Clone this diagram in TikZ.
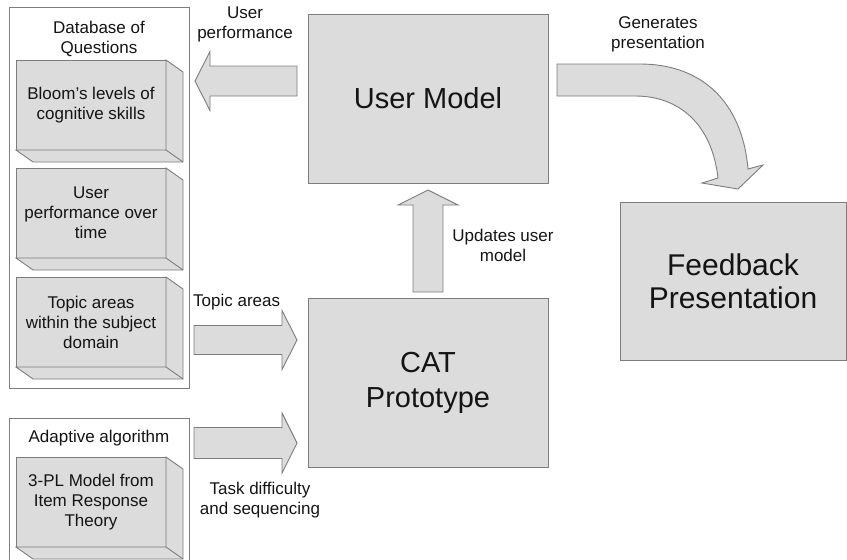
\documentclass[tikz,border=0pt]{standalone}
\usepackage{fontspec}
\setmainfont{Liberation Sans}
\usetikzlibrary{calc}
\definecolor{boxfill}{RGB}{220,220,220}
\definecolor{edge}{RGB}{125,125,125}
\definecolor{ink}{RGB}{20,20,20}

% straight block arrow: tail, tip, half shaft width, half head width, head length
\newcommand\fatarrow[5]{%
  \coordinate (fahead) at ($(#2)!#5!(#1)$);
  \draw[blockarrow]
    ($(#1)!#3!90:(#2)$) --
    ($(fahead)!#3!-90:(#1)$) --
    ($(fahead)!#4!-90:(#1)$) --
    (#2) --
    ($(fahead)!#4!90:(#1)$) --
    ($(fahead)!#3!90:(#1)$) --
    ($(#1)!#3!-90:(#2)$) -- cycle;}

% depth faces (right and bottom) of a raised box
\newcommand\slabsides[1]{%
  \draw[face] (#1.north east) -- ++(17,12) -- ($(#1.south east)+(17,12)$)
    -- ($(#1.south west)+(17,12)$) -- (#1.south west) -- (#1.south east) -- cycle;
  \draw[face] (#1.south east) -- ++(17,12);}

\begin{document}
\begin{tikzpicture}[x=1pt,y=-1pt,
  every node/.style={text=ink},
  panel/.style={draw=edge, line width=0.9pt, fill=white, anchor=north west, outer sep=0pt, inner sep=0pt},
  face/.style={draw=edge, line width=0.9pt, fill=boxfill, line join=miter},
  front/.style={face, anchor=north west, outer sep=0pt, inner sep=0pt,
    minimum width=150pt, minimum height=90pt, align=center,
    font=\fontsize{17}{20}\selectfont},
  bigbox/.style={face, anchor=north west, outer sep=0pt, inner sep=0pt, align=center,
    font=\fontsize{29}{35}\selectfont},
  lbl/.style={align=center, inner sep=0pt, font=\fontsize{17}{20}\selectfont},
  blockarrow/.style={face}]

\useasboundingbox (0,0) rectangle (847,560);
\clip (0,0) rectangle (847,560);

% question database panel
\node[panel, minimum width=180pt, minimum height=381pt] (db) at (9,7) {};
\node[lbl] (dbt) at (99,39) {Database of\\Questions};
\node[front] (bloom) at (16,60) {Bloom’s levels of\\cognitive skills};
\slabsides{bloom}
\node[front] (perf) at (16,168) {User\\performance over\\time};
\slabsides{perf}
\node[front] (topic) at (16,277) {Topic areas\\within the subject\\domain};
\slabsides{topic}

% adaptive algorithm panel
\node[panel, minimum width=180pt, minimum height=160pt] (alg) at (9,418) {};
\node[lbl] (algt) at (99,438) {Adaptive algorithm};
\node[front] (irt) at (16,457) {3-PL Model from\\Item Response\\Theory};
\slabsides{irt}

% main blocks
\node[bigbox, minimum width=240pt, minimum height=169pt] (um) at (308,14) {User Model};
\node[bigbox, minimum width=240pt, minimum height=169pt] (cat) at (308,298) {CAT\\Prototype};
\node[bigbox, minimum width=226pt, minimum height=158pt, font=\fontsize{30}{33}\selectfont] (fb) at (620,202) {Feedback\\Presentation};

% arrow ends
\coordinate (perfTail) at ($(um.north west)+(-11,67)$);
\coordinate (perfTip)  at ($(db.north east)+(6,74)$);
\coordinate (updTail)  at ($(cat.north)+(0,-6)$);
\coordinate (updTip)   at ($(um.south)+(0,7)$);
\coordinate (topTail)  at ($(db.north east)+(5,333)$);
\coordinate (topTip)   at ($(cat.west)+(-11,-42.5)$);
\coordinate (taskTail) at ($(alg.north east)+(5,25)$);
\coordinate (taskTip)  at ($(cat.west)+(-11,60.5)$);

\fatarrow{perfTail}{perfTip}{15pt}{29.5pt}{15pt}
\fatarrow{updTail}{updTip}{15pt}{30pt}{15pt}
\fatarrow{topTail}{topTip}{14.5pt}{29.5pt}{15pt}
\fatarrow{taskTail}{taskTip}{15.5pt}{30pt}{15pt}

% curved arrow from the user model down to the feedback block
\draw[blockarrow] ($(um.east)+(9,-34.5)$) -- (640,64)
  .. controls (700,64) and (742,100) .. (748,169)
  -- (763,165) -- (738,189) -- (702,183) -- (718,178)
  .. controls (712,125) and (680,96) .. (635,96)
  -- ($(um.east)+(9,-2.5)$) -- cycle;

% arrow labels
\node[lbl] (lperf) at (245,24) {User\\performance};
\node[lbl] (lupd) at (503,245) {Updates user\\model};
\node[lbl, anchor=west] (ltop) at (193,302) {Topic areas};
\node[lbl] (ltask) at (260,500) {Task difficulty\\and sequencing};
\node[lbl] (lgen) at (658,34) {Generates\\presentation};
\end{tikzpicture}
\end{document}
